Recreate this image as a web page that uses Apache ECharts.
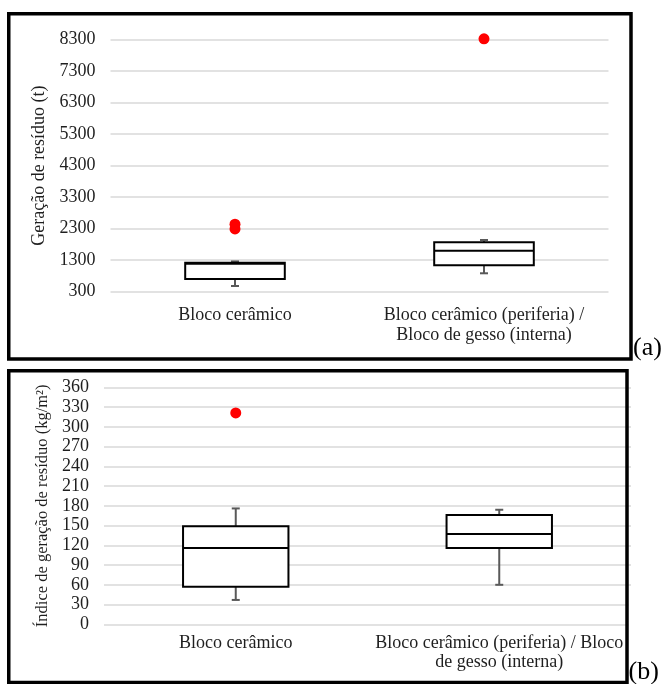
<!DOCTYPE html>
<html>
<head>
<meta charset="utf-8">
<script src="https://cdn.jsdelivr.net/npm/echarts@6/dist/echarts.min.js"></script>
<style>
html,body{margin:0;padding:0;background:#fff;}
#chart{width:665px;height:684px;}
</style>
</head>
<body>
<div id="chart"></div>
<script>
// ---- data ----
const categoriesA = ['Bloco cerâmico', 'Bloco cerâmico (periferia) /\nBloco de gesso (interna)'];
// [min, Q1, median, Q3, max]
const boxA1 = [480, 700, 1190, 1220, 1260];
const boxA2 = [884, 1138, 1600, 1868, 1940];
const outliersA = [[0, 2440], [0, 2290], [1, 8320]];
const axisA = { min: 300, max: 8300, interval: 1000 };
const titleA = 'Geração de resíduo (t)';

const categoriesB = ['Bloco cerâmico', 'Bloco cerâmico (periferia) / Bloco\nde gesso (interna)'];
const boxB1 = [37, 57, 116, 149, 176];
const boxB2 = [60, 116, 137, 166, 174];
const outliersB = [[0, 321]];
const axisB = { min: 0, max: 360, interval: 30 };
const titleB = 'Índice de geração de resíduo (kg/m²)';

const panelLabels = ['(a)', '(b)'];

// ---- styles ----
const FONT = "'Liberation Serif', 'Times New Roman', serif";
const TXT = '#1f1f1f';

function boxData(boxes) {
  return boxes.map((b, i) => [i].concat(b));
}

function renderBox(params, api) {
  const c = api.value(0);
  const pMin = api.coord([c, api.value(1)]);
  const pQ1 = api.coord([c, api.value(2)]);
  const pMed = api.coord([c, api.value(3)]);
  const pQ3 = api.coord([c, api.value(4)]);
  const pMax = api.coord([c, api.value(5)]);
  const bw = api.size([1, 0])[0] * 0.4;
  const x = pQ1[0];
  const cap = 4;
  const whisk = { stroke: '#595959', lineWidth: 2 };
  return {
    type: 'group',
    children: [
      { type: 'line', shape: { x1: x, y1: pQ3[1], x2: x, y2: pMax[1] }, style: whisk },
      { type: 'line', shape: { x1: x - cap, y1: pMax[1], x2: x + cap, y2: pMax[1] }, style: whisk },
      { type: 'line', shape: { x1: x, y1: pQ1[1], x2: x, y2: pMin[1] }, style: whisk },
      { type: 'line', shape: { x1: x - cap, y1: pMin[1], x2: x + cap, y2: pMin[1] }, style: whisk },
      { type: 'rect', shape: { x: x - bw / 2, y: pQ3[1], width: bw, height: pQ1[1] - pQ3[1] },
        style: { fill: '#fff', stroke: '#000', lineWidth: 2 } },
      { type: 'line', shape: { x1: x - bw / 2, y1: pMed[1], x2: x + bw / 2, y2: pMed[1] },
        style: { stroke: '#000', lineWidth: 2 } }
    ]
  };
}

function yAxis(idx, ax, name, nameSize, gap) {
  return {
    type: 'value', gridIndex: idx, min: ax.min, max: ax.max, interval: ax.interval,
    name: name, nameLocation: 'middle', nameGap: gap, nameRotate: 90,
    nameTextStyle: { fontFamily: FONT, fontSize: nameSize, color: TXT },
    axisLine: { show: false }, axisTick: { show: false },
    axisLabel: { fontFamily: FONT, fontSize: 18, color: TXT, margin: 15, formatter: v => String(v) },
    splitLine: { lineStyle: { color: '#d9d9d9', width: 1.5 } }
  };
}

function xAxis(idx, cats, margin, lh) {
  return {
    type: 'category', gridIndex: idx, data: cats, boundaryGap: true,
    axisLine: { show: false }, axisTick: { show: false }, splitLine: { show: false },
    axisLabel: { fontFamily: FONT, fontSize: 18, color: TXT, margin: margin, lineHeight: lh, interval: 0 }
  };
}

const chart = echarts.init(document.getElementById('chart'), null, { renderer: 'canvas' });
chart.setOption({
  backgroundColor: '#fff',
  animation: false,
  grid: [
    { left: 110.5, right: 56.5, top: 39.5, bottom: 392.3 },
    { left: 104, right: 34, top: 387.3, bottom: 59.7 }
  ],
  xAxis: [ xAxis(0, categoriesA, 14, 20), xAxis(1, categoriesB, 9, 19) ],
  yAxis: [ yAxis(0, axisA, titleA, 18, 49), yAxis(1, axisB, titleB, 16.5, 51) ],
  series: [
    { type: 'custom', xAxisIndex: 0, yAxisIndex: 0, renderItem: renderBox,
      data: boxData([boxA1, boxA2]), encode: { x: 0, y: [1, 2, 3, 4, 5] }, z: 2 },
    { type: 'scatter', xAxisIndex: 0, yAxisIndex: 0, data: outliersA, symbolSize: 11, clip: false,
      itemStyle: { color: '#ff0000', opacity: 1 }, z: 3 },
    { type: 'custom', xAxisIndex: 1, yAxisIndex: 1, renderItem: renderBox,
      data: boxData([boxB1, boxB2]), encode: { x: 0, y: [1, 2, 3, 4, 5] }, z: 2 },
    { type: 'scatter', xAxisIndex: 1, yAxisIndex: 1, data: outliersB, symbolSize: 11, clip: false,
      itemStyle: { color: '#ff0000', opacity: 1 }, z: 3 }
  ],
  graphic: [
    { type: 'rect', z: 100, shape: { x: 628.5, y: 600, width: 40, height: 60 }, style: { fill: '#fff' } },
    { type: 'rect', z: 101, shape: { x: 8.75, y: 13.75, width: 622.25, height: 345.25 },
      style: { fill: 'none', stroke: '#000', lineWidth: 3.5 } },
    { type: 'rect', z: 101, shape: { x: 8.75, y: 370.75, width: 618.25, height: 311.75 },
      style: { fill: 'none', stroke: '#000', lineWidth: 3.5 } },
    { type: 'text', z: 102, x: 633, y: 348, style: { text: panelLabels[0], font: '26px ' + FONT, fill: '#000', verticalAlign: 'middle' } },
    { type: 'text', z: 102, x: 628.5, y: 672, style: { text: panelLabels[1], font: '26px ' + FONT, fill: '#000', verticalAlign: 'middle' } }
  ]
});
</script>
</body>
</html>
